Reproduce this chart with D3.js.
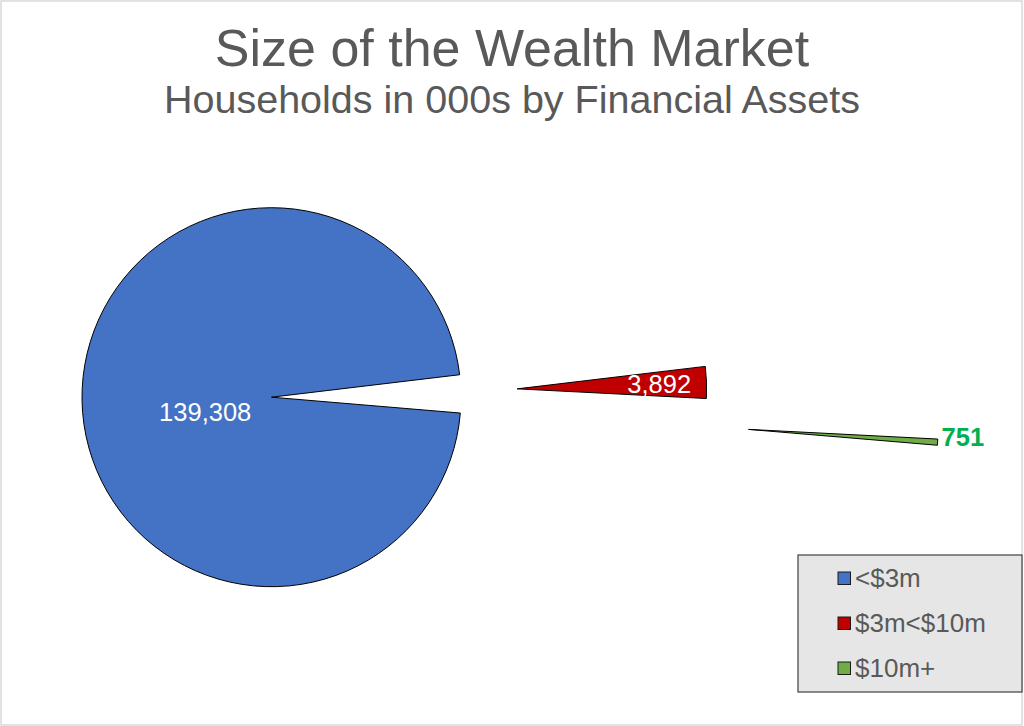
<!DOCTYPE html>
<html>
<head>
<meta charset="utf-8">
<script src="https://cdn.jsdelivr.net/npm/d3@7"></script>
<style>
  html,body{margin:0;padding:0;background:#fff;}
  svg{display:block;font-family:"Liberation Sans",Arial,sans-serif;}
</style>
</head>
<body>
<div id="chart"></div>
<script>
// data
const categories = ["<$3m", "$3m<$10m", "$10m+"];
const households = [139308, 3892, 751];
const colors = ["#4472C4", "#C00000", "#70AD47"];
const title = "Size of the Wealth Market";
const subtitle = "Households in 000s by Financial Assets";

// layout
const W = 1024, H = 726;
const CX = 271.5, CY = 397.2, R = 189.5;
const START = 94.8 * Math.PI / 180;        // first slice angle, clockwise from 12
const EXPLODE = [0, 1.297, 2.523];         // explosion as fraction of radius
const TEXT = "#595959";

const svg = d3.select("#chart").append("svg")
  .attr("width", W).attr("height", H).attr("viewBox", `0 0 ${W} ${H}`);

// chart area border
svg.append("rect").attr("x", 1).attr("y", 1).attr("width", W - 3).attr("height", H - 2)
  .attr("fill", "#fff").attr("stroke", "#d9d9d9").attr("stroke-width", 1.5);

// titles
svg.append("text").attr("x", W / 2).attr("y", 66).attr("text-anchor", "middle")
  .attr("fill", TEXT).attr("font-size", 52).text(title);
svg.append("text").attr("x", W / 2).attr("y", 113).attr("text-anchor", "middle")
  .attr("fill", TEXT).attr("font-size", 39.5).text(subtitle);

// pie
const pie = d3.pie().sort(null).value(d => d.v)
  .startAngle(START).endAngle(START + 2 * Math.PI);
const arcs = pie(households.map((v, i) => ({ v, i })));
const arc = d3.arc().innerRadius(0).outerRadius(R);

function offset(a, i) {
  const m = (a.startAngle + a.endAngle) / 2, d = EXPLODE[i] * R;
  return [Math.sin(m) * d, -Math.cos(m) * d];
}

const g = svg.append("g").attr("transform", `translate(${CX},${CY})`);

g.selectAll("path.slice").data(arcs).join("path")
  .attr("class", "slice")
  .attr("transform", (a, i) => `translate(${offset(a, i)})`)
  .attr("d", arc)
  .attr("fill", a => colors[a.data.i])
  .attr("stroke", "#000").attr("stroke-width", 1).attr("stroke-linejoin", "miter");

// data labels
const fmt = d3.format(",");
arcs.forEach((a, i) => {
  const [ox, oy] = offset(a, i);
  const m = (a.startAngle + a.endAngle) / 2;
  const t = g.append("text").attr("font-size", 25.5).text(fmt(a.data.v));
  if (i === 0) {
    // big slice: label placed inward, left of centre
    t.attr("x", ox + Math.sin(m) * R * 0.35).attr("y", oy - Math.cos(m) * R * 0.35 + 14)
      .attr("text-anchor", "middle").attr("dy", "0.35em").attr("fill", "#fff");
  } else if (i === 1) {
    t.attr("x", ox + Math.sin(m) * R * 0.75).attr("y", oy - Math.cos(m) * R * 0.75)
      .attr("text-anchor", "middle").attr("dy", "0.35em").attr("fill", "#fff");
  } else {
    t.attr("x", ox + Math.sin(m) * R + 4).attr("y", oy - Math.cos(m) * R - 5)
      .attr("text-anchor", "start").attr("dy", "0.35em")
      .attr("fill", "#00B050").attr("font-weight", "bold");
  }
});

// legend
const LX = 798, LY = 555, LW = 224, LH = 137;
const leg = svg.append("g");
leg.append("rect").attr("x", LX).attr("y", LY).attr("width", LW).attr("height", LH)
  .attr("fill", "#e6e6e6").attr("stroke", "#404040").attr("stroke-width", 1.2);

const rowY = d3.scalePoint().domain(categories).range([LY + 23, LY + 113]);
categories.forEach((c, i) => {
  const y = rowY(c);
  leg.append("rect").attr("x", 838).attr("y", y - 6).attr("width", 12.5).attr("height", 12.5)
    .attr("fill", colors[i]).attr("stroke", "#1a1a1a").attr("stroke-width", 1);
  leg.append("text").attr("x", 855).attr("y", y).attr("dy", "0.35em")
    .attr("fill", TEXT).attr("font-size", 26).text(c);
});
</script>
</body>
</html>
